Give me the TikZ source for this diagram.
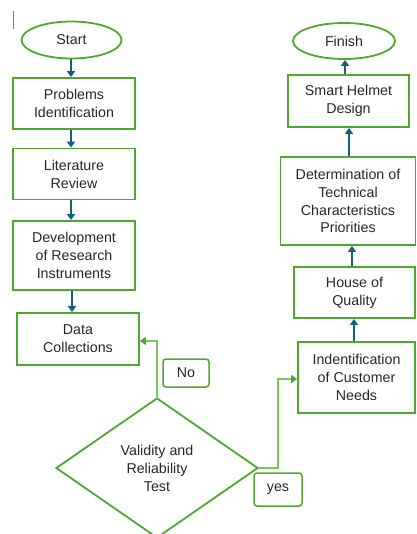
\documentclass[tikz,border=0pt]{standalone}
\usepackage{fontspec}
\setmainfont{Liberation Sans}
\usetikzlibrary{shapes.geometric,arrows.meta}
\definecolor{boxgreen}{HTML}{4EA72E}
\definecolor{linkgreen}{HTML}{7CC45E}
\definecolor{arrowblue}{HTML}{156082}
\definecolor{txt}{HTML}{262626}
\tikzset{
  every node/.style={font=\fontsize{14.3}{18}\selectfont, text=txt, align=center},
  procbox/.style={draw=boxgreen, line width=1.8bp, rectangle, inner sep=0pt},
  termnode/.style={draw=boxgreen, line width=1.8bp, ellipse, inner sep=0pt},
  labelbox/.style={draw=boxgreen, line width=1.5bp, rectangle, rounded corners=3bp, inner sep=0pt},
  decision/.style={draw=boxgreen, line width=1.8bp, diamond, inner sep=0pt},
  flowarrow/.style={draw=arrowblue, line width=1.8bp, -{Triangle[width=8bp,length=6bp]}},
  branch/.style={draw=linkgreen, line width=1.1bp, -{Triangle[width=8bp,length=6bp,color=boxgreen]}},
}
\begin{document}
\begin{tikzpicture}[x=1bp,y=-1bp]
\useasboundingbox (0,0) rectangle (416,534);
\draw[gray, line width=1.2bp] (13.5,11) -- (13.5,29);
% left column
\node[termnode, minimum width=100bp, minimum height=37bp] (start) at (71.5,40) {Start};
\node[procbox, minimum width=122bp, minimum height=51bp] (prob) at (74,103.5) {Problems\\Identification};
\node[procbox, minimum width=122bp, minimum height=51bp] (lit) at (74,174) {Literature\\Review};
\node[procbox, minimum width=122bp, minimum height=69bp] (dev) at (74,255.5) {Development\\of Research\\Instruments};
\node[procbox, minimum width=122bp, minimum height=52bp] (data) at (78,339) {Data\\Collections};
\node[decision, minimum width=202bp, minimum height=140bp] (test) at (157,468) {Validity and\\Reliability\\Test};
\node[labelbox, minimum width=46bp, minimum height=28bp] (no) at (186,373) {No};
\node[labelbox, minimum width=48bp, minimum height=33bp] (yes) at (278,489.5) {yes};
% right column
\node[termnode, minimum width=102bp, minimum height=36bp] (finish) at (344,41) {Finish};
\node[procbox, minimum width=121bp, minimum height=52bp] (smart) at (348.5,101) {Smart Helmet\\Design};
\node[procbox, minimum width=135bp, minimum height=88bp] (det) at (348,201) {Determination of\\Technical\\Characteristics\\Priorities};
\node[procbox, minimum width=121bp, minimum height=51bp] (hoq) at (354.5,292.5) {House of\\Quality};
\node[procbox, minimum width=117bp, minimum height=71bp] (cust) at (356.5,377.5) {Indentification\\of Customer\\Needs};
% coordinates for arrow columns
\coordinate (a1) at (71,0);
\coordinate (a2) at (71,0);
\coordinate (a3) at (71,0);
\coordinate (a4) at (72,0);
\coordinate (b1) at (345,0);
\coordinate (b2) at (349,0);
\coordinate (b3) at (352,0);
\coordinate (b4) at (354,0);
% left arrows
\draw[flowarrow] (a1 |- start.south) -- (a1 |- prob.north);
\draw[flowarrow] (a2 |- prob.south) -- (a2 |- lit.north);
\draw[flowarrow] (a3 |- lit.south) -- (a3 |- dev.north);
\draw[flowarrow] (a4 |- dev.south) -- (a4 |- data.north);
% right arrows
\draw[flowarrow] (b1 |- smart.north) -- (b1 |- finish.south);
\draw[flowarrow] (b2 |- det.north) -- (b2 |- smart.south);
\draw[flowarrow] (b3 |- hoq.north) -- (b3 |- det.south);
\draw[flowarrow] (b4 |- cust.north) -- (b4 |- hoq.south);
% branches
\coordinate (nocorner) at (157,341);
\draw[branch] (test.north) -- (nocorner) -- (nocorner -| data.east);
\coordinate (yescorner) at (278,468);
\coordinate (yestop) at (278,379);
\draw[branch] (test.east) -- (yescorner) -- (yestop) -- (yestop -| cust.west);
\end{tikzpicture}
\end{document}
